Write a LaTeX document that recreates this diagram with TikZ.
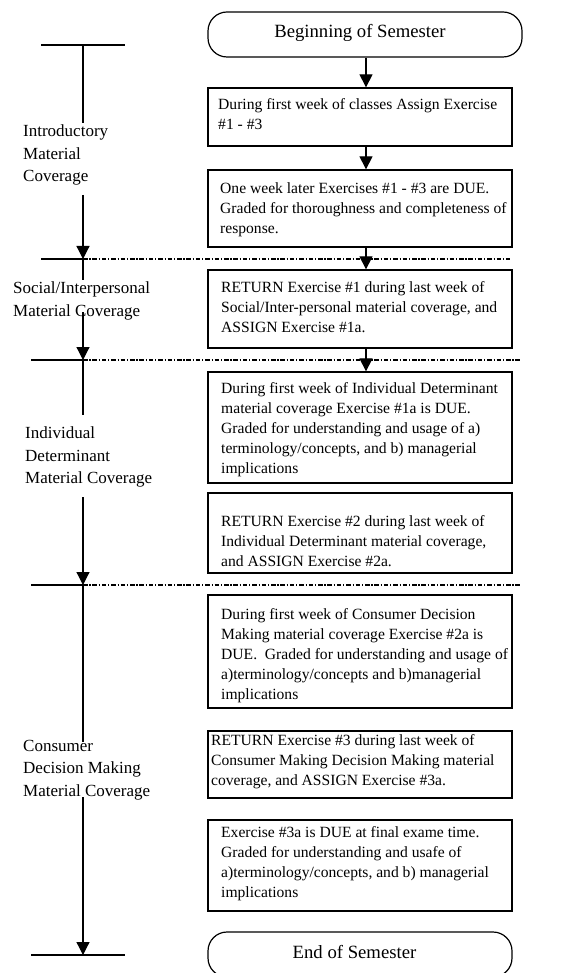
\documentclass[tikz,border=0pt]{standalone}
\usepackage{fontspec}
\setmainfont{Liberation Serif}
\usetikzlibrary{arrows.meta}
\begin{document}
\begin{tikzpicture}[x=1pt,y=-1pt,
  boxshape/.style={draw, line width=1.3pt, rectangle, inner sep=0pt, minimum width=304pt},
  boxtext/.style={anchor=west, align=left, inner sep=0pt, font=\fontsize{15.6}{20}\selectfont},
  termshape/.style={draw, line width=1.2pt, rectangle, rounded corners=19pt, inner sep=0pt, minimum height=45pt},
  termtext/.style={inner sep=0pt, font=\fontsize{18.7}{22}\selectfont},
  lbl/.style={anchor=west, align=left, inner sep=0pt, font=\fontsize{17}{22.5}\selectfont},
  flow/.style={line width=1.2pt, -{Triangle[width=13pt,length=13pt]}},
  tline/.style={line width=1.2pt},
  sepline/.style={line width=1.3pt, dash pattern=on 4.5pt off 1.8pt on 1.3pt off 1.8pt},
]
\useasboundingbox (0,0) rectangle (564,973);
\clip (0,0) rectangle (564,973);

% terminators
\node[termshape, minimum width=314pt] (t1) at (365,34.5) {};
\node[termtext] (t1txt) at (360,33) {Beginning of Semester};
\node[termshape, minimum width=304pt] (t2) at (360,954.5) {};
\node[termtext] (t2txt) at (354.5,952) {End of Semester};

% boxes
\node[boxshape, minimum height=58pt] (b1) at (360,117) {};
\node[boxshape, minimum height=77pt] (b2) at (360,208.5) {};
\node[boxshape, minimum height=78pt] (b3) at (360,309) {};
\node[boxshape, minimum height=111pt] (b4) at (360,427.5) {};
\node[boxshape, minimum height=80pt] (b5) at (360,533) {};
\node[boxshape, minimum height=113pt] (b6) at (360,651.5) {};
\node[boxshape, minimum height=67pt] (b7) at (360,764.5) {};
\node[boxshape, minimum height=91pt] (b8) at (360,865.5) {};

% box texts
\node[boxtext] (x1) at (218,114) {During first week of classes Assign Exercise\\\#1 - \#3};
\node[boxtext] (x2) at (220,210) {One week later Exercises \#1 - \#3 are DUE.\\Graded for thoroughness and completeness of\\response.};
\node[boxtext] (x3) at (221,307) {RETURN Exercise \#1 during last week of\\Social/Inter-personal material coverage, and\\ASSIGN Exercise \#1a.};
\node[boxtext] (x4) at (221,429.5) {During first week of Individual Determinant\\material coverage Exercise \#1a is DUE.\\Graded for understanding and usage of a)\\terminology/concepts, and b) managerial\\implications};
\node[boxtext] (x5) at (221,541) {RETURN Exercise \#2 during last week of\\Individual Determinant material coverage,\\and ASSIGN Exercise \#2a.};
\node[boxtext] (x6) at (221,656) {During first week of Consumer Decision\\Making material coverage Exercise \#2a is\\DUE.~ Graded for understanding and usage of\\a)terminology/concepts and b)managerial\\implications};
\node[boxtext] (x7) at (211,762) {RETURN Exercise \#3 during last week of\\Consumer Making Decision Making material\\coverage, and ASSIGN Exercise \#3a.};
\node[boxtext] (x8) at (221,864) {Exercise \#3a is DUE at final exame time.\\Graded for understanding and usafe of\\a)terminology/concepts, and b) managerial\\implications};

% flow arrows
\coordinate (ax) at (366,0);
\draw[flow] (ax |- t1.south) -- (ax |- b1.north);
\draw[flow] (ax |- b1.south) -- (ax |- b2.north);
\draw[flow] (ax |- b2.south) -- (ax |- b3.north);
\draw[flow] (ax |- b3.south) -- (ax |- b4.north);

% left labels
\node[lbl] (L1) at (23,155) {Introductory\\Material\\Coverage};
\node[lbl] (L2) at (13,301) {Social/Interpersonal\\Material Coverage};
\node[lbl] (L3) at (25,457) {Individual\\Determinant\\Material Coverage};
\node[lbl] (L4) at (23,770) {Consumer\\Decision Making\\Material Coverage};

% timeline coordinates
\coordinate (p0) at (83,45);
\coordinate (p0l) at (41,45);
\coordinate (p0r) at (125,45);
\coordinate (p1a) at (83,123);
\coordinate (p1b) at (83,195);
\coordinate (s1) at (83,259);
\coordinate (s1l) at (41,259);
\coordinate (s1r) at (510,259);
\coordinate (p2a) at (83,280);
\coordinate (p2b) at (83,312);
\coordinate (s2) at (83,360);
\coordinate (s2l) at (31,360);
\coordinate (s2r) at (520,360);
\coordinate (p3a) at (83,415);
\coordinate (p3b) at (83,497);
\coordinate (s3) at (83,585);
\coordinate (s3l) at (31,585);
\coordinate (s3r) at (520,585);
\coordinate (p4a) at (83,742);
\coordinate (p4b) at (83,797);
\coordinate (s4) at (83,955);
\coordinate (s4l) at (31,955);
\coordinate (s4r) at (125,955);

% timeline
\draw[tline] (p0l) -- (p0r);
\draw[tline] (p0) -- (p1a);
\draw[flow] (p1b) -- (s1);
\draw[tline] (s1l) -- (s1);
\draw[sepline] (s1) -- (s1r);
\draw[tline] (s1) -- (p2a);
\draw[flow] (p2b) -- (s2);
\draw[tline] (s2l) -- (s2);
\draw[sepline] (s2) -- (s2r);
\draw[tline] (s2) -- (p3a);
\draw[flow] (p3b) -- (s3);
\draw[tline] (s3l) -- (s3);
\draw[sepline] (s3) -- (s3r);
\draw[tline] (s3) -- (p4a);
\draw[flow] (p4b) -- (s4);
\draw[tline] (s4l) -- (s4r);
\end{tikzpicture}
\end{document}
